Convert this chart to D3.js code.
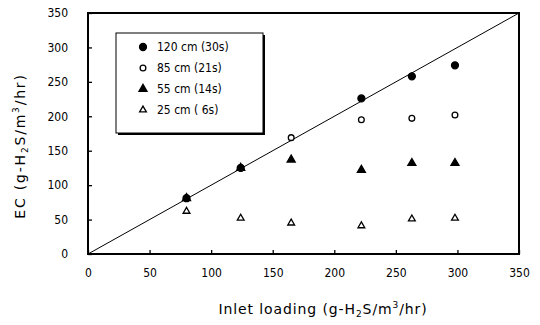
<!DOCTYPE html>
<html>
<head>
<meta charset="utf-8">
<script src="https://cdn.jsdelivr.net/npm/d3@7"></script>
<style>
  body { margin: 0; background: #fff; }
  svg { display: block; }
  .tick text { font-family: "Liberation Sans Narrow", "DejaVu Sans Condensed", sans-serif; font-size: 12px; }
</style>
</head>
<body>
<div id="chart"></div>
<script>
// inlet loading (x) and EC for each bed height
const loading = [80, 124, 165, 222, 263, 298]
const ec120 = [81, 125, null, 226, 258, 274]
const ec85 = [81, 125, 169, 195, 197, 202]
const ec55 = [81, 125, 137, 122, 132, 132]
const ec25 = [62, 52, 45, 41, 51, 52]

const seriesNames = ['120 cm (30s)', '85 cm (21s)', '55 cm (14s)', '25 cm ( 6s)']
const xTicks = [0, 50, 100, 150, 200, 250, 300, 350]
const yTicks = [0, 50, 100, 150, 200, 250, 300, 350]

const W = 540, H = 325

let svg = d3.select('#chart')
  .append('svg')
  .attr('width', W)
  .attr('height', H)

let x = d3.scaleLinear().domain([0, 350]).range([88, 519])
let y = d3.scaleLinear().domain([0, 350]).range([254, 13])

// axes with inward ticks
let xAxis = d3.axisBottom(x).tickValues(xTicks).tickSize(-4).tickSizeOuter(0).tickPadding(14)
let yAxis = d3.axisLeft(y).tickValues(yTicks).tickSize(-4).tickSizeOuter(0).tickPadding(20)

let gx = svg.append('g').attr('transform', `translate(0,${y(0)})`).call(xAxis)
let gy = svg.append('g').attr('transform', `translate(${x(0)},0)`).call(yAxis)
gx.select('.domain').remove()
gy.select('.domain').remove()
svg.selectAll('.tick line').attr('stroke', '#000').attr('stroke-width', 1.3)
svg.selectAll('.tick text').attr('fill', '#000')

// frame
svg.append('rect')
  .attr('x', x(0)).attr('y', y(350))
  .attr('width', x(350) - x(0)).attr('height', y(0) - y(350))
  .attr('fill', 'none').attr('stroke', '#000').attr('stroke-width', 2)

// 1:1 line
svg.append('line')
  .attr('x1', x(0)).attr('y1', y(0))
  .attr('x2', x(350)).attr('y2', y(350))
  .attr('stroke', '#000').attr('stroke-width', 1)

// legend box with shadow
svg.append('rect').attr('x', 118).attr('y', 35).attr('width', 147).attr('height', 100).attr('fill', '#000')
svg.append('rect').attr('x', 116).attr('y', 33).attr('width', 147).attr('height', 100)
  .attr('fill', '#fff').attr('stroke', '#000').attr('stroke-width', 1)

const styles = [
  { sym: d3.symbolCircle, size: 38, fill: '#000' },
  { sym: d3.symbolCircle, size: 26, fill: '#fff' },
  { sym: d3.symbolTriangle, size: 28, fill: '#000' },
  { sym: d3.symbolTriangle, size: 20, fill: '#fff' }
]
const series = [ec120, ec85, ec55, ec25]

// open markers first, filled on top (as in the original)
let order = [1, 3, 2, 0]
order.forEach(i => {
  let st = styles[i]
  svg.append('g').selectAll('path')
    .data(loading.map((l, j) => ({ l: l, v: series[i][j] })).filter(d => d.v != null))
    .enter()
    .append('path')
    .attr('d', d3.symbol().type(st.sym).size(st.size))
    .attr('transform', d => `translate(${x(d.l)},${y(d.v)})`)
    .attr('fill', st.fill)
    .attr('stroke', '#000')
    .attr('stroke-width', 1.3)
})

// legend entries
seriesNames.forEach((name, i) => {
  let st = styles[i]
  let ly = 47 + i * 21
  svg.append('path')
    .attr('d', d3.symbol().type(st.sym).size(st.size)())
    .attr('transform', `translate(143,${ly})`)
    .attr('fill', st.fill).attr('stroke', '#000').attr('stroke-width', 1.3)
  svg.append('text')
    .attr('x', 157).attr('y', ly + 4)
    .attr('fill', '#000')
    .attr('font-family', '"Liberation Sans Narrow", "DejaVu Sans Condensed", sans-serif')
    .attr('font-size', 12)
    .text(name)
})

// axis titles
let xt = svg.append('text')
  .attr('x', 323).attr('y', 314)
  .attr('text-anchor', 'middle')
  .attr('fill', '#000')
  .attr('font-family', '"DejaVu Sans", sans-serif')
  .attr('font-size', 14)
  .attr('letter-spacing', 0.9)
xt.append('tspan').text('Inlet loading (g-H')
xt.append('tspan').attr('font-size', 9).attr('dy', 3).text('2')
xt.append('tspan').attr('dy', -3).text('S/m')
xt.append('tspan').attr('font-size', 9).attr('dy', -6).text('3')
xt.append('tspan').attr('dy', 6).text('/hr)')

let yt = svg.append('text')
  .attr('transform', 'translate(25,146) rotate(-90)')
  .attr('text-anchor', 'middle')
  .attr('fill', '#000')
  .attr('font-family', '"DejaVu Sans", sans-serif')
  .attr('font-size', 14)
  .attr('letter-spacing', 1.8)
yt.append('tspan').text('EC (g-H')
yt.append('tspan').attr('font-size', 9).attr('dy', 3).text('2')
yt.append('tspan').attr('dy', -3).text('S/m')
yt.append('tspan').attr('font-size', 9).attr('dy', -6).text('3')
yt.append('tspan').attr('dy', 6).text('/hr)')
</script>
</body>
</html>
